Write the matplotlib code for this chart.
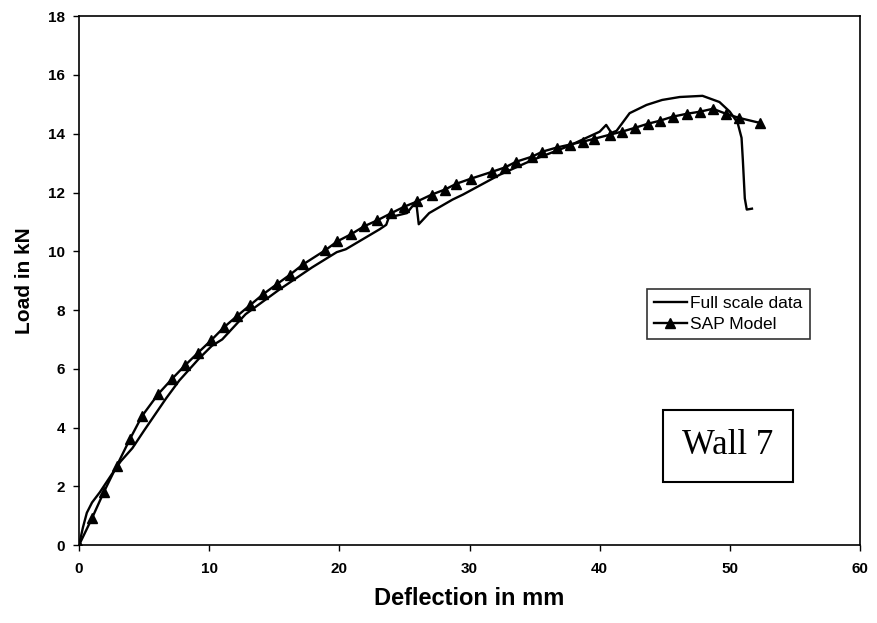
import matplotlib
matplotlib.use("Agg")
import matplotlib.pyplot as plt

# Full scale test data (deflection in mm, load in kN)
full_x = [0, 0.3, 0.6, 1.0, 1.6, 2.5, 3.2, 4.1, 5.0, 6.7, 7.7, 9.2, 10.2, 11.0,
          12.8, 15.4, 17.9, 19.8, 20.5, 23.1, 23.6, 23.8, 25.2, 25.9, 26.1,
          26.9, 28.7, 29.5, 32.3, 33.3, 34.8, 37.5, 40.0, 40.5, 40.9, 41.3,
          42.3, 43.6, 44.8, 46.15, 47.9, 49.2, 50.0, 50.6, 50.9, 51.0, 51.15,
          51.3, 51.7]
full_y = [0, 0.6, 1.1, 1.45, 1.8, 2.4, 2.85, 3.3, 3.9, 5.0, 5.6, 6.34, 6.78, 7.0,
          7.86, 8.7, 9.45, 9.97, 10.07, 10.75, 10.9, 11.15, 11.3, 11.7, 10.92,
          11.3, 11.76, 11.93, 12.6, 12.8, 13.1, 13.56, 14.07, 14.3, 14.03, 14.1,
          14.7, 14.98, 15.15, 15.25, 15.29, 15.08, 14.75, 14.37, 13.86, 13.1,
          11.8, 11.42, 11.45]

# SAP model results
sap_x = [0, 1.0, 1.9, 2.9, 3.9, 4.85, 6.1, 7.15, 8.15, 9.15,
         10.15, 11.15, 12.15, 13.15, 14.15, 15.2, 16.2, 17.2, 18.9, 19.85,
         20.9, 21.9, 22.9, 24.0, 25.0, 26.0, 27.1, 28.1, 29.0, 30.1,
         31.7, 32.7, 33.6, 34.8, 35.6, 36.7, 37.7, 38.7, 39.6, 40.8,
         41.7, 42.7, 43.7, 44.6, 45.6, 46.7, 47.7, 48.7, 49.7, 50.7, 52.3]
sap_y = [0, 0.92, 1.8, 2.7, 3.6, 4.4, 5.15, 5.66, 6.12, 6.55,
         6.97, 7.42, 7.8, 8.17, 8.54, 8.88, 9.2, 9.55, 10.03, 10.34,
         10.58, 10.85, 11.05, 11.3, 11.52, 11.7, 11.93, 12.1, 12.3, 12.47,
         12.7, 12.85, 13.05, 13.22, 13.39, 13.53, 13.63, 13.73, 13.83, 13.97,
         14.07, 14.2, 14.34, 14.44, 14.58, 14.68, 14.75, 14.85, 14.68, 14.54,
         14.37]

x_ticks = [0, 10, 20, 30, 40, 50, 60]
y_ticks = [0, 2, 4, 6, 8, 10, 12, 14, 16, 18]

plt.rcParams["font.family"] = ["Liberation Sans", "DejaVu Sans"]

fig = plt.figure(figsize=(8.78, 6.23), dpi=100)
ax = fig.add_axes([0.090, 0.125, 0.8895, 0.849])

ax.plot(full_x, full_y, color="black", lw=1.7, label="Full scale data")
ax.plot(sap_x, sap_y, color="black", lw=1.7, marker="^", markersize=7.5,
        label="SAP Model")

ax.set_xlim(0, 60)
ax.set_ylim(0, 18)
ax.set_xticks(x_ticks)
ax.set_yticks(y_ticks)
ax.tick_params(direction="out", length=4, width=1, labelsize=11, pad=6)
ax.tick_params(axis="x", pad=8)
for lab in ax.get_xticklabels() + ax.get_yticklabels():
    lab.set_fontweight("bold")
for sp in ax.spines.values():
    sp.set_linewidth(1.2)

ax.set_xlabel("Deflection in mm", fontsize=17, fontweight="bold", labelpad=8)
ax.set_ylabel("Load in kN", fontsize=15, fontweight="bold", labelpad=10)

leg = ax.legend(loc="upper left", bbox_to_anchor=(647 / 878, 1 - 289 / 623),
                bbox_transform=fig.transFigure, fontsize=12.5, frameon=True,
                fancybox=False, edgecolor="black", handlelength=1.9,
                borderpad=0.4, labelspacing=0.35, handletextpad=0.2,
                borderaxespad=0)
leg.get_frame().set_linewidth(1.2)

fig.text(728 / 878, 1 - 446 / 623, "Wall 7", fontsize=25,
         family="Liberation Serif", ha="center", va="center",
         bbox=dict(boxstyle="square,pad=0.55", fc="white", ec="black", lw=1.5))

fig.savefig("out.png", dpi=100)
